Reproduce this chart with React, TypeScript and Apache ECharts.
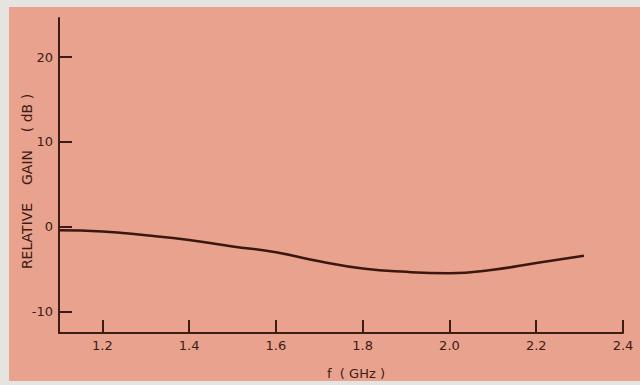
import React, { useEffect, useRef } from "react";
import * as echarts from "echarts";

const freqGHz = [1.1, 1.2, 1.3, 1.4, 1.5, 1.6, 1.7, 1.8, 1.9, 2.0, 2.1, 2.2, 2.31];
const gainDb = [-0.4, -0.55, -1.0, -1.55, -2.3, -3.0, -4.05, -4.9, -5.3, -5.45, -5.05, -4.25, -3.4];
const xTicks = [1.2, 1.4, 1.6, 1.8, 2.0, 2.2, 2.4];
const yTicks = [-10, 0, 10, 20];

const INK = "#3d1c15";
const FONT = "DejaVu Sans";

export default function App() {
  const ref = useRef<HTMLDivElement>(null);
  useEffect(() => {
    document.body.style.margin = "0";
    const chart = echarts.init(ref.current!, undefined, { renderer: "svg" });
    chart.setOption({
      animation: false,
      backgroundColor: "#e5e4e1",
      graphic: [
        {
          type: "rect",
          z: -10,
          shape: { x: 9, y: 7, width: 631, height: 374 },
          style: { fill: "#e9a28d" },
          silent: true,
        },
      ],
      grid: { left: 59, right: 17, top: 18, bottom: 51 },
      xAxis: {
        type: "value",
        min: 1.1,
        max: 2.4,
        name: "f  ( GHz )",
        nameLocation: "middle",
        nameGap: 34,
        nameTextStyle: { color: INK, fontFamily: FONT, fontSize: 13, padding: [0, 0, 0, 30] },
        axisLine: { show: true, onZero: false, lineStyle: { color: INK, width: 2 } },
        axisTick: {
          show: true,
          inside: true,
          length: 13,
          lineStyle: { color: INK, width: 2 },
          customValues: xTicks,
        },
        axisLabel: {
          color: INK,
          fontFamily: FONT,
          fontSize: 13,
          margin: 6,
          customValues: xTicks,
          formatter: (v: number) => v.toFixed(1),
        },
        splitLine: { show: false },
      },
      yAxis: {
        type: "value",
        min: -12.5,
        max: 24.6,
        name: "RELATIVE    GAIN    ( dB )",
        nameLocation: "middle",
        nameGap: 25,
        nameMoveOverlap: false,
        nameRotate: 90,
        nameTextStyle: { color: INK, fontFamily: FONT, fontSize: 14, padding: [0, 12, 0, 0] },
        axisLine: { show: true, onZero: false, lineStyle: { color: INK, width: 2 } },
        axisTick: {
          show: true,
          inside: true,
          length: 13,
          lineStyle: { color: INK, width: 2 },
          customValues: yTicks,
        },
        axisLabel: {
          color: INK,
          fontFamily: FONT,
          fontSize: 13,
          margin: 6,
          customValues: yTicks,
        },
        splitLine: { show: false },
      },
      series: [
        {
          type: "line",
          data: freqGHz.map((f, i) => [f, gainDb[i]]),
          smooth: true,
          showSymbol: false,
          lineStyle: { color: "#3a1710", width: 2.5 },
        },
      ],
    });
    return () => chart.dispose();
  }, []);
  return <div ref={ref} style={{ width: 640, height: 385 }} />;
}
